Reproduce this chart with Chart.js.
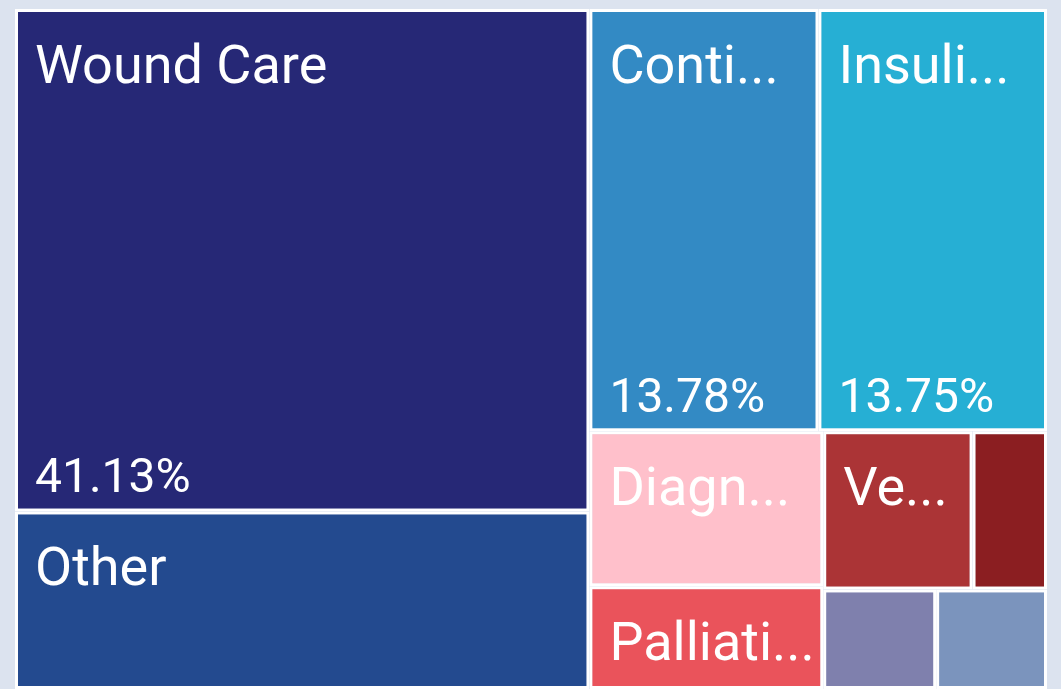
<!DOCTYPE html>
<html lang="en">
<head>
    <meta charset="utf-8">
    <title>Share by Category</title>
    <script src="https://cdn.jsdelivr.net/npm/chart.js"></script>
    <style>
        html, body { margin: 0; padding: 0; background: #dce3ef; }
        #wrap { width: 1061px; height: 689px; }
    </style>
</head>
<body>
    <div id="wrap">
        <canvas id="treemapChart" width="1061" height="689"></canvas>
    </div>

    <script>
        // Labels as printed in the tiles (small tiles show no label)
        const categories = ['Wound Care', 'Other', 'Conti...', 'Insuli...', 'Diagn...', 'Palliati...', 'Ve...', '', '', ''];
        // Share of total, %
        const shares = [41.13, 14.53, 13.78, 13.75, 5.17, 3.42, 3.37, 1.68, 1.60, 1.57];
        const colors = ['#262876', '#234a8f', '#338ac4', '#26afd4', '#ffc0cb', '#ea535b', '#ab3436', '#8b1e21', '#7f80ad', '#7b94bd'];

        // Squarified layout (golden ratio variant), values sorted largest first
        function squarify(values, w, h) {
            const phi = (1 + Math.sqrt(5)) / 2;
            const out = [];
            let x0 = 0, y0 = 0, x1 = w, y1 = h;
            let value = values.reduce((a, b) => a + b, 0);
            let i0 = 0, i1 = 0;
            const n = values.length;
            while (i0 < n) {
                const dx = x1 - x0, dy = y1 - y0;
                let sum = values[i1++];
                let minV = sum, maxV = sum;
                const alpha = Math.max(dy / dx, dx / dy) / (value * phi);
                let beta = sum * sum * alpha;
                let minRatio = Math.max(maxV / beta, beta / minV);
                for (; i1 < n; ++i1) {
                    const v = values[i1];
                    sum += v;
                    if (v < minV) minV = v;
                    if (v > maxV) maxV = v;
                    beta = sum * sum * alpha;
                    const r = Math.max(maxV / beta, beta / minV);
                    if (r > minRatio) { sum -= v; break; }
                    minRatio = r;
                }
                if (dx < dy) {
                    // strip across the top, tiles side by side
                    const yb = y0 + dy * sum / value;
                    let x = x0;
                    for (let i = i0; i < i1; i++) {
                        const xr = x + dx * values[i] / sum;
                        out[i] = { x0: x, y0: y0, x1: xr, y1: yb };
                        x = xr;
                    }
                    y0 = yb;
                } else {
                    // strip down the left, tiles stacked
                    const xb = x0 + dx * sum / value;
                    let y = y0;
                    for (let i = i0; i < i1; i++) {
                        const yr = y + dy * values[i] / sum;
                        out[i] = { x0: x0, y0: y, x1: xb, y1: yr };
                        y = yr;
                    }
                    x0 = xb;
                }
                value -= sum;
                i0 = i1;
            }
            return out;
        }

        class TreemapController extends Chart.DatasetController {
            parse() {}

            update(mode) {
                const meta = this._cachedMeta;
                this.updateElements(meta.data, 0, meta.data.length, mode);
            }

            updateElements(rects, start, count, mode) {
                const xs = this._cachedMeta.xScale;
                const ys = this._cachedMeta.yScale;
                const w = xs.width || 1, h = ys.height || 1;
                const cells = squarify(this.getDataset().data, w, h);
                for (let i = start; i < start + count; i++) {
                    const c = cells[i];
                    const left = xs.getPixelForValue(c.x0 / w);
                    const right = xs.getPixelForValue(c.x1 / w);
                    const top = ys.getPixelForValue(c.y0 / h);
                    const bottom = ys.getPixelForValue(c.y1 / h);
                    const props = {
                        x: (left + right) / 2,
                        y: top,
                        base: bottom,
                        width: right - left,
                        height: bottom - top,
                        horizontal: false,
                        borderSkipped: {},
                        inflateAmount: 0,
                        options: this.resolveDataElementOptions(i, mode)
                    };
                    this.updateElement(rects[i], i, props, mode);
                }
            }

            draw() {
                super.draw();
                const ctx = this.chart.ctx;
                const labels = this.chart.data.labels;
                const values = this.getDataset().data;
                const bw = this.getDataset().borderWidth;
                ctx.save();
                ctx.fillStyle = '#ffffff';
                ctx.textAlign = 'left';
                ctx.textBaseline = 'alphabetic';
                this._cachedMeta.data.forEach((el, i) => {
                    const left = el.x - el.width / 2 + bw;
                    const top = Math.min(el.y, el.base) + bw;
                    const bottom = Math.max(el.y, el.base) - bw;
                    if (labels[i]) {
                        ctx.font = '54px Roboto';
                        ctx.fillText(labels[i], left + 17, top + 71);
                    }
                    if (bottom - top > 200) {
                        ctx.font = '48px Roboto';
                        ctx.fillText(values[i].toFixed(2) + '%', left + 17, bottom - 16);
                    }
                });
                ctx.restore();
            }
        }
        TreemapController.id = 'treemap';
        TreemapController.defaults = { datasetElementType: false, dataElementType: 'bar' };
        Chart.register(TreemapController);

        const ctx = document.getElementById('treemapChart').getContext('2d');
        const treemapChart = new Chart(ctx, {
            type: 'treemap',
            data: {
                labels: categories,
                datasets: [{
                    data: shares,
                    backgroundColor: colors,
                    borderColor: '#ffffff',
                    borderWidth: 3
                }]
            },
            options: {
                responsive: false,
                devicePixelRatio: 1,
                animation: false,
                events: [],
                layout: { padding: { left: 15, top: 9, right: 14, bottom: 0 } },
                scales: {
                    x: { type: 'linear', min: 0, max: 1, display: false },
                    y: { type: 'linear', min: 0, max: 1, reverse: true, display: false }
                },
                plugins: {
                    legend: { display: false },
                    tooltip: { enabled: false }
                }
            }
        });
    </script>
</body>
</html>
